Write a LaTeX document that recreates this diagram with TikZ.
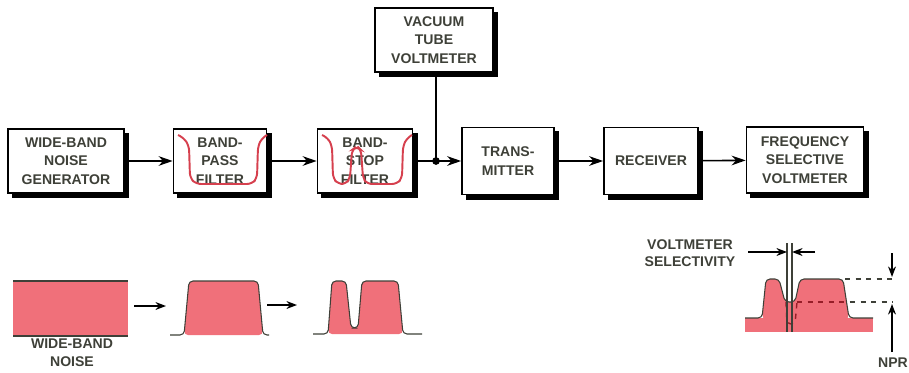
\documentclass[tikz,border=0pt]{standalone}
\usepackage{fontspec}
\setmainfont{Liberation Sans}
\usetikzlibrary{arrows.meta}
\definecolor{noise}{RGB}{240,112,122}
\definecolor{filt}{RGB}{214,64,78}
\definecolor{ink}{RGB}{62,64,56}
\definecolor{notch}{RGB}{150,30,40}

\begin{document}
\begin{tikzpicture}[x=0.02cm, y=-0.02cm,
	blk/.style={draw=black, line width=1pt, fill=white,
		minimum height=1.28cm, inner sep=0pt, align=center, text=ink,
		font=\bfseries\fontsize{8}{10.4}\selectfont},
	conn/.style={line width=0.9pt, -{Stealth[length=8pt, width=5.5pt]}},
	small/.style={line width=0.9pt, -{Stealth[length=6pt, width=4.5pt]}},
	thin/.style={line width=0.6pt, draw=ink},
	lbl/.style={text=ink, align=center, font=\bfseries\fontsize{8}{10}\selectfont}]
			\useasboundingbox (0,0) rectangle (909,372);
			
			\node[blk, minimum width=2.32cm] (gen) at (66,161) {WIDE-BAND\\NOISE\\GENERATOR};
			\node[blk, minimum width=1.86cm] (bpf) at (220,161) {BAND-\\PASS\\FILTER};
			\node[blk, minimum width=1.90cm] (bsf) at (365,161) {BAND-\\STOP\\FILTER};
			\node[blk, minimum width=2.36cm] (vtvm) at (434,40) {VACUUM\\TUBE\\VOLTMETER};
			\node[blk, minimum width=1.84cm, minimum height=1.34cm] (tx) at (508,161) {TRANS-\\MITTER};
			\node[blk, minimum width=1.88cm, minimum height=1.34cm] (rx) at (651,161) {RECEIVER};
			\node[blk, minimum width=2.34cm, minimum height=1.32cm] (fsv) at (805,160) {FREQUENCY\\SELECTIVE\\VOLTMETER};
			\foreach \b in {gen,bpf,bsf,vtvm,tx,rx,fsv}{
				\fill ([yshift=-2.5pt]\b.north east) rectangle ([xshift=2.4pt,yshift=-2.4pt]\b.south east);
				\fill ([xshift=2.5pt]\b.south west) rectangle ([xshift=2.4pt,yshift=-2.4pt]\b.south east);
			}
			
			\draw[filt, line width=1.1pt, rounded corners=0.1cm] (178,135) -- (184,138) -- (189,146) -- (190,178) -- (196,184) -- (252,184) -- (257,178) -- (258,146) -- (262,138) -- (267,135);
			\draw[filt, line width=1.1pt, rounded corners=0.1cm] (322,135) -- (328,138) -- (332,146) -- (333,178) -- (338,184) -- (346,184) -- (350,178) -- (352,150) -- (357,146) -- (361,150) -- (363,178) -- (367,184) -- (397,184) -- (402,178) -- (403,146) -- (407,138) -- (412,135);
			
			\coordinate (j) at (436,161);
			\draw[conn] (gen) -- (bpf);
			\draw[conn] (bpf) -- (bsf);
			\draw[conn] (bsf) -- (tx);
			\draw[line width=0.9pt] (vtvm.south -| j) -- (j);
			\fill (j) circle (2.2pt);
			\draw[conn] (tx) -- (rx);
			\draw[conn] (rx) -- (fsv);
			
			\fill[noise] (13,281) rectangle (128,336);
			\draw[thin] (13,281) -- (128,281);
			\draw[thin] (13,336) -- (128,336);
			\node[lbl] (wbn) at (72,353) {WIDE-BAND\\NOISE};
			
			\coordinate (a1) at (134,306);
			\coordinate (a2) at (166,306);
			\coordinate (b1) at (267,305);
			\coordinate (b2) at (297,305);
			\draw[small] (a1) -- (a2);
			\draw[small] (b1) -- (b2);
			
			\fill[noise, rounded corners=0.08cm] (184,335) -- (189,281) -- (258,281) -- (263,335) -- cycle;
			\draw[thin, rounded corners=0.08cm] (170,335) -- (184,335) -- (189,281) -- (258,281) -- (263,335) -- (269,335);
			
			\fill[noise, rounded corners=0.08cm] (328,334) -- (332,281) -- (346,281) -- (351,328) -- (358,328) -- (362,281) -- (398,281) -- (403,334) -- cycle;
			\draw[thin, rounded corners=0.08cm] (313,334) -- (328,334) -- (332,281) -- (346,281) -- (351,328) -- (358,328) -- (362,281) -- (398,281) -- (403,334) -- (422,334);
			
			\fill[noise] (745,318) rectangle (873,332);
			\fill[noise, rounded corners=0.08cm] (762,319) -- (766,279) -- (779,279) -- (785,302) -- (795,302) -- (800,279) -- (843,279) -- (849,319) -- cycle;
			\draw[thin, rounded corners=0.08cm] (745,318) -- (762,318) -- (766,279) -- (779,279) -- (785,302) -- (795,302) -- (800,279) -- (843,279) -- (849,318) -- (873,318);
			\draw[notch, dashed, line width=0.8pt, rounded corners=0.08cm] (786,302) -- (787,324) -- (795,324) -- (797,302);
			\draw[notch, dashed, line width=0.8pt] (797,302) -- (850,302);
			\draw[ink, dashed, line width=0.8pt] (850,302) -- (893,302);
			\draw[ink, dashed, line width=0.8pt] (845,279) -- (893,279);
			
			\coordinate (s1) at (787,243);
			\coordinate (s2) at (792,243);
			\draw[thin] (s1) -- (787,332);
			\draw[thin] (s2) -- (792,332);
			\coordinate (l1) at (748,252);
			\coordinate (l2) at (815,252);
			\draw[small] (l1) -- (l1 -| s1);
			\draw[small] (l2) -- (l2 -| s2);
			\node[lbl] (sel) at (690,253) {VOLTMETER\\SELECTIVITY};
			
			\coordinate (d1) at (892,253);
			\coordinate (d2) at (892,277);
			\coordinate (u1) at (892,352);
			\coordinate (u2) at (892,304);
			\draw[small] (d1) -- (d2);
			\draw[small] (u1) -- (u2);
			\node[lbl] (npr) at (893,363) {NPR};
		\end{tikzpicture}
\end{document}
